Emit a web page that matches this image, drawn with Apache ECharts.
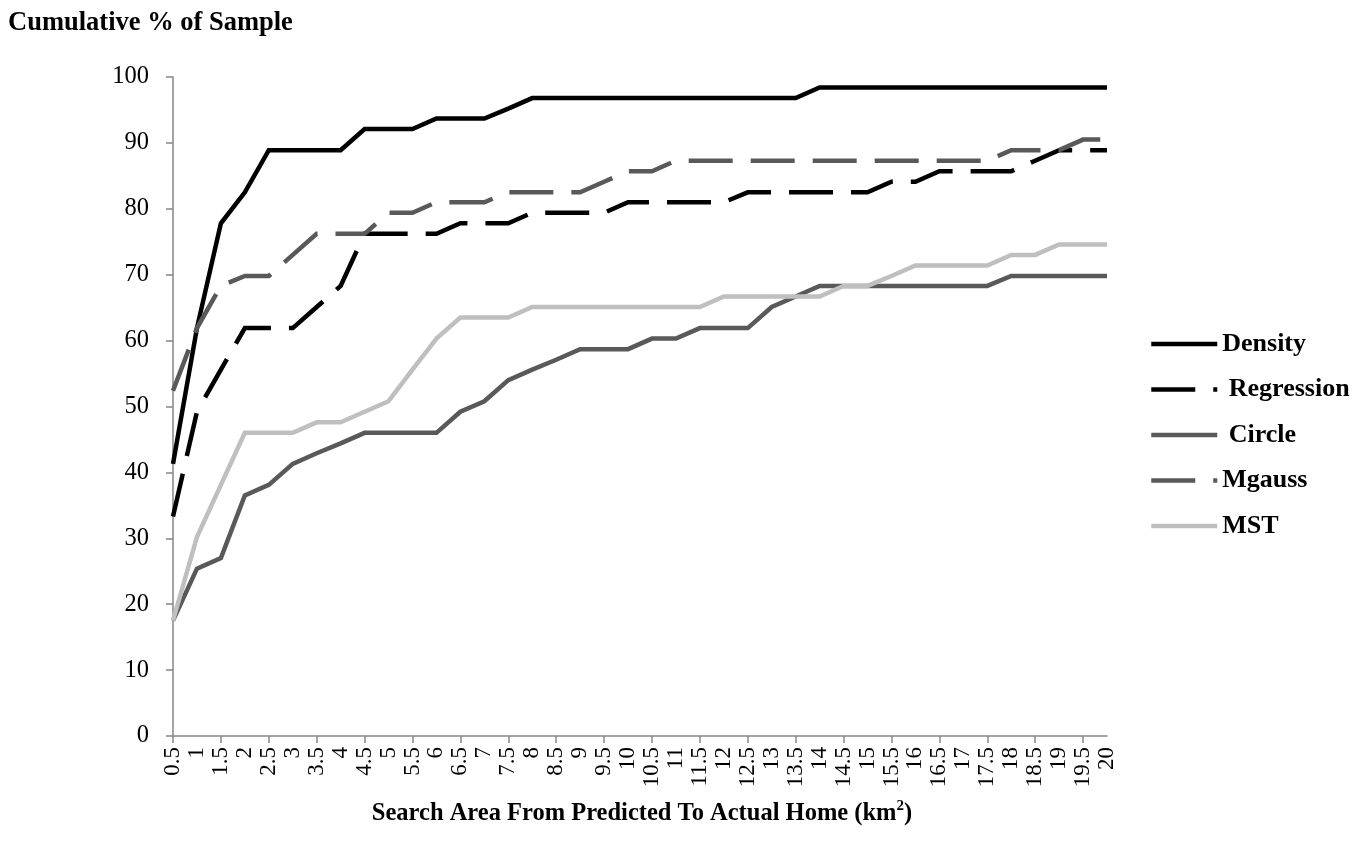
<!DOCTYPE html>
<html>
<head>
<meta charset="utf-8">
<script src="https://cdn.jsdelivr.net/npm/echarts@6/dist/echarts.min.js"></script>
<style>
html,body{margin:0;padding:0;background:#fff;}
#chart{width:1366px;height:855px;}
</style>
</head>
<body>
<div id="chart"></div>
<script>
const categories = ['0.5','1','1.5','2','2.5','3','3.5','4','4.5','5','5.5','6','6.5','7','7.5','8','8.5','9','9.5','10','10.5','11','11.5','12','12.5','13','13.5','14','14.5','15','15.5','16','16.5','17','17.5','18','18.5','19','19.5','20'];

const density = [41.3,61.9,77.8,82.5,88.9,88.9,88.9,88.9,92.1,92.1,
                 92.1,93.7,93.7,93.7,95.2,96.8,96.8,96.8,96.8,96.8,
                 96.8,96.8,96.8,96.8,96.8,96.8,96.8,98.4,98.4,98.4,
                 98.4,98.4,98.4,98.4,98.4,98.4,98.4,98.4,98.4,98.4];

const regression = [33.3,49.2,55.6,61.9,61.9,61.9,65.1,68.3,76.2,76.2,
                    76.2,76.2,77.8,77.8,77.8,79.4,79.4,79.4,79.4,81.0,
                    81.0,81.0,81.0,81.0,82.5,82.5,82.5,82.5,82.5,82.5,
                    84.1,84.1,85.7,85.7,85.7,85.7,87.3,88.9,88.9,88.9];

const circle = [17.5,25.4,27.0,36.5,38.1,41.3,42.9,44.4,46.0,46.0,
                46.0,46.0,49.2,50.8,54.0,55.6,57.1,58.7,58.7,58.7,
                60.3,60.3,61.9,61.9,61.9,65.1,66.7,68.3,68.3,68.3,
                68.3,68.3,68.3,68.3,68.3,69.8,69.8,69.8,69.8,69.8];

const mgauss = [52.4,61.9,68.3,69.8,69.8,73.0,76.2,76.2,76.2,79.4,
                79.4,81.0,81.0,81.0,82.5,82.5,82.5,82.5,84.1,85.7,
                85.7,87.3,87.3,87.3,87.3,87.3,87.3,87.3,87.3,87.3,
                87.3,87.3,87.3,87.3,87.3,88.9,88.9,88.9,90.5,90.5];

const mst = [17.5,30.2,38.1,46.0,46.0,46.0,47.6,47.6,49.2,50.8,
             55.6,60.3,63.5,63.5,63.5,65.1,65.1,65.1,65.1,65.1,
             65.1,65.1,65.1,66.7,66.7,66.7,66.7,66.7,68.3,68.3,
             69.8,71.4,71.4,71.4,71.4,73.0,73.0,74.6,74.6,74.6];

const yTicks = [0,10,20,30,40,50,60,70,80,90,100];

const FONT = 'Liberation Serif';
const chart = echarts.init(document.getElementById('chart'), null, {renderer:'canvas'});

function mk(name, data, color, dashed){
  return {
    name: name, type:'line', data: data,
    symbol:'none', showSymbol:false, smooth:false,
    animation:false,
    lineStyle:{color: color, width:4.5, type: dashed ? [44,18] : 'solid', cap:'butt', join:'miter'},
    itemStyle:{color: color}
  };
}

const legendPad = {'Regression':' ', 'Circle':' '};

chart.setOption({
  animation:false,
  backgroundColor:'#ffffff',
  title:[
    {text:'Cumulative % of Sample', left:3, top:5,
     textStyle:{fontFamily:FONT, fontWeight:'bold', fontSize:26.5, color:'#000'}},
    {text:'{a|Search Area From Predicted To Actual Home (km}{s|2}{a|)}', left:637, top:794, textAlign:'center',
     textStyle:{rich:{
       a:{fontFamily:FONT, fontWeight:'bold', fontSize:24.5, color:'#000', verticalAlign:'bottom'},
       s:{fontFamily:FONT, fontWeight:'bold', fontSize:15, color:'#000', verticalAlign:'top', padding:[0,0,12,0]}
     }}}
  ],
  legend:{
    orient:'vertical', left:1144, top:326, padding:5,
    itemWidth:66, itemHeight:3, itemGap:19.5,
    itemStyle:{opacity:0},
    lineStyle:{width:4.5},
    data:['Density','Regression','Circle','Mgauss','MST'],
    formatter: function(n){ return (legendPad[n]||'') + n; },
    textStyle:{fontFamily:FONT, fontWeight:'bold', fontSize:26, color:'#000', lineHeight:25}
  },
  grid:{left:173, right:259, top:77, bottom:119, containLabel:false},
  xAxis:{
    type:'category', data:categories, boundaryGap:false,
    axisLine:{lineStyle:{color:'#868686', width:1.5}},
    axisTick:{show:true, length:7, lineStyle:{color:'#868686', width:1.5},
      interval: function(i){ return i % 2 === 0; }},
    axisLabel:{interval:0, rotate:90, margin:11, fontFamily:FONT, fontSize:23, color:'#000'},
    splitLine:{show:false}
  },
  yAxis:{
    type:'value', min:0, max:100, interval:10,
    axisLine:{show:true, lineStyle:{color:'#868686', width:1.5}},
    axisTick:{show:true, length:7, lineStyle:{color:'#868686', width:1.5}},
    axisLabel:{margin:24, fontFamily:FONT, fontSize:24.5, color:'#000',
      formatter:function(v){ return yTicks.indexOf(v) >= 0 ? String(v) : ''; }},
    splitLine:{show:false}
  },
  series:[
    mk('Density', density, '#000000', false),
    mk('Regression', regression, '#000000', true),
    mk('Circle', circle, '#595959', false),
    mk('Mgauss', mgauss, '#595959', true),
    mk('MST', mst, '#bfbfbf', false)
  ]
});
</script>
</body>
</html>
